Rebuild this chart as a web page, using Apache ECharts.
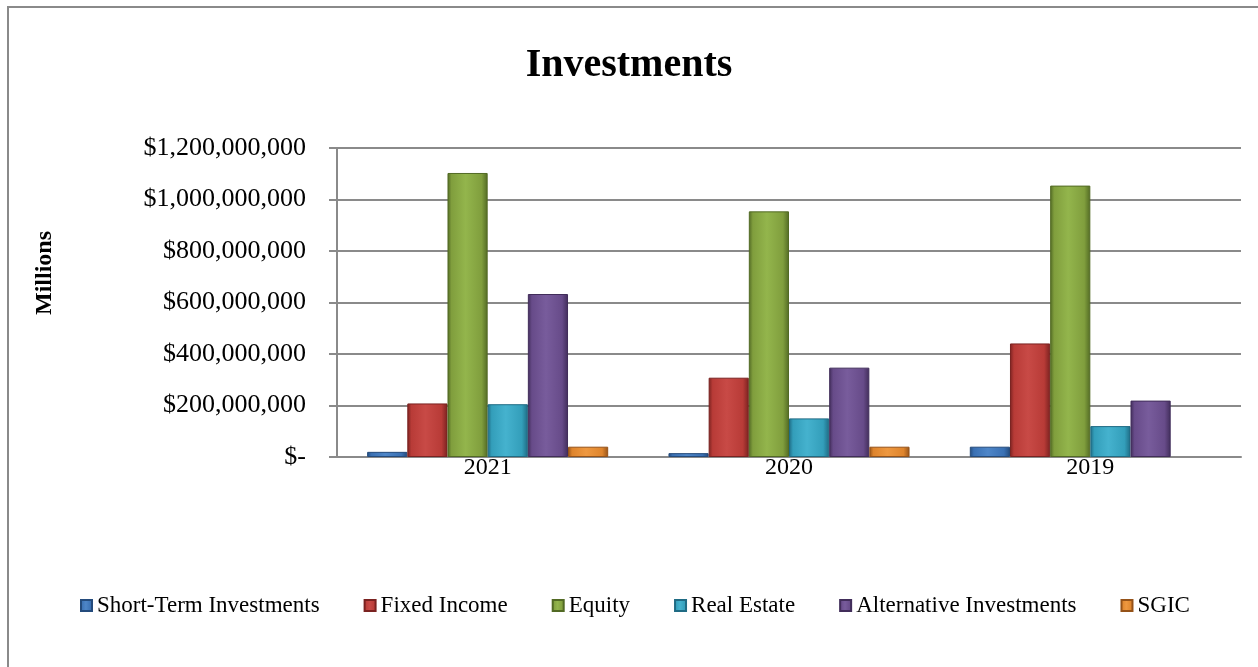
<!DOCTYPE html>
<html>
<head>
<meta charset="utf-8">
<script src="https://cdn.jsdelivr.net/npm/echarts@6/dist/echarts.min.js"></script>
<style>
html,body{margin:0;padding:0;background:#fff;}
#chart{width:1258px;height:667px;}
</style>
</head>
<body>
<div id="chart"></div>
<script>
const categories = ['2021', '2020', '2019'];
const seriesNames = ['Short-Term Investments', 'Fixed Income', 'Equity', 'Real Estate', 'Alternative Investments', 'SGIC'];
const shortTerm = [20000000, 15000000, 40000000];
const fixedIncome = [208000000, 308000000, 441000000];
const equity = [1103000000, 954000000, 1054000000];
const realEstate = [205000000, 150000000, 120000000];
const alternative = [633000000, 347000000, 219000000];
const sgic = [40000000, 40000000, null];
const yTicks = [0, 200000000, 400000000, 600000000, 800000000, 1000000000, 1200000000];

const values = [shortTerm, fixedIncome, equity, realEstate, alternative, sgic];
const palette = [
  {mid: '#3A70B3', light: '#4E86C8', dark: '#244B7C'},
  {mid: '#B83B37', light: '#C84A46', dark: '#7A2220'},
  {mid: '#809E3D', light: '#93B54C', dark: '#526A24'},
  {mid: '#339EBA', light: '#45B2CE', dark: '#1F6B84'},
  {mid: '#674B89', light: '#785C9C', dark: '#412D5A'},
  {mid: '#DE842C', light: '#EE9840', dark: '#955218'}
];

function grad(p) {
  return new echarts.graphic.LinearGradient(0, 0, 1, 0, [
    {offset: 0, color: p.dark},
    {offset: 0.1, color: p.mid},
    {offset: 0.45, color: p.light},
    {offset: 0.85, color: p.mid},
    {offset: 1, color: p.dark}
  ]);
}

function fmt(v) {
  if (v === 0) return '$-';
  return '$' + v.toLocaleString('en-US');
}

const chart = echarts.init(document.getElementById('chart'));
const font = '"Liberation Serif", "Times New Roman", serif';

chart.setOption({
  animation: false,
  backgroundColor: '#fff',
  graphic: [{
    type: 'rect',
    shape: {x: 8, y: 7, width: 1270, height: 700},
    style: {fill: 'none', stroke: '#8a8a8a', lineWidth: 2},
    silent: true,
    z: -10
  }, {
    type: 'text',
    x: 45,
    y: 273,
    rotation: Math.PI / 2,
    style: {
      text: 'Millions',
      font: 'bold 24px "Liberation Serif", "Times New Roman", serif',
      fill: '#000',
      align: 'center',
      verticalAlign: 'middle'
    },
    silent: true
  }],
  title: {
    text: 'Investments',
    left: 'center',
    top: 41,
    textStyle: {fontFamily: font, fontSize: 40, fontWeight: 'bold', color: '#000'}
  },
  legend: {
    data: seriesNames,
    left: 75,
    top: 589,
    itemWidth: 11,
    itemHeight: 11,
    itemGap: 44,
    icon: 'rect',
    textStyle: {fontFamily: font, fontSize: 23, color: '#000'}
  },
  grid: {left: 337, right: 17, top: 148, bottom: 210, containLabel: false},
  xAxis: {
    type: 'category',
    data: categories,
    axisLine: {lineStyle: {color: '#8a8a8a', width: 2}},
    axisTick: {inside: true, length: 8, lineStyle: {color: '#8a8a8a', width: 2}},
    axisLabel: {fontFamily: font, fontSize: 24, color: '#000', margin: -1}
  },
  yAxis: {
    type: 'value',
    min: 0,
    max: 1200000000,
    interval: 200000000,
    axisLine: {show: true, lineStyle: {color: '#8a8a8a', width: 2}},
    axisTick: {show: true, length: 8, lineStyle: {color: '#8a8a8a', width: 2}},
    axisLabel: {fontFamily: font, fontSize: 26, color: '#000', margin: 31, formatter: fmt},
    splitLine: {lineStyle: {color: '#8a8a8a', width: 2}}
  },
  series: seriesNames.map((name, i) => ({
    name: name,
    type: 'bar',
    data: values[i],
    barGap: '0%',
    barCategoryGap: '20%',
    itemStyle: {color: grad(palette[i]), borderColor: palette[i].dark, borderWidth: 1}
  })),
  color: palette.map(p => p.mid)
});
</script>
</body>
</html>
